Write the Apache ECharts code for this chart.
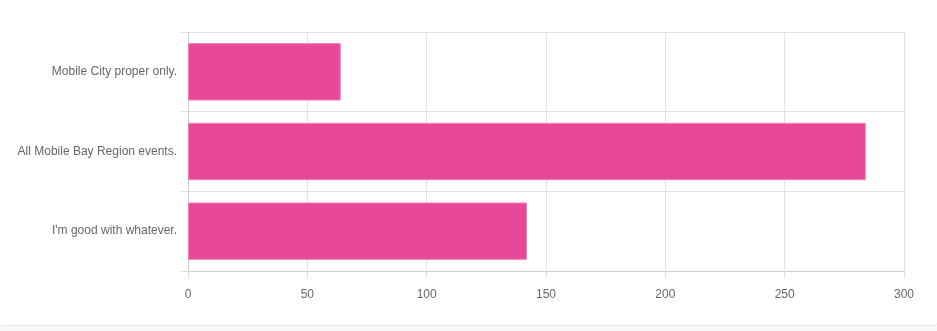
<!DOCTYPE html>
<html>
<head>
<meta charset="utf-8">
<script src="https://cdn.jsdelivr.net/npm/echarts@6/dist/echarts.min.js"></script>
<style>
html,body{margin:0;padding:0;background:#f8f9fa;}
#card{width:937px;height:325px;background:#fff;border-bottom:1px solid #e6e6e6;border-radius:0 0 4px 4px;}
#chart{width:937px;height:325px;}
</style>
</head>
<body>
<div id="card"><div id="chart"></div></div>
<script>
const categories = ["Mobile City proper only.", "All Mobile Bay Region events.", "I'm good with whatever."];
const counts = [64, 284, 142];
const xTicks = {min: 0, max: 300, interval: 50};

const chart = echarts.init(document.getElementById('chart'), null, {renderer: 'canvas'});
chart.setOption({
  animation: false,
  textStyle: {fontFamily: 'Arial, "Liberation Sans", sans-serif'},
  grid: {left: 188, right: 33, top: 32, bottom: 54, containLabel: false},
  xAxis: {
    type: 'value',
    min: xTicks.min, max: xTicks.max, interval: xTicks.interval,
    axisLine: {show: true, lineStyle: {color: '#cccccc'}},
    axisTick: {show: true, length: 7, lineStyle: {color: '#dddddd'}},
    axisLabel: {color: '#666666', fontSize: 12, margin: 18, fontFamily: 'Arial, "Liberation Sans", sans-serif'},
    splitLine: {show: true, lineStyle: {color: '#e2e2e2'}}
  },
  yAxis: {
    type: 'category',
    data: categories,
    inverse: true,
    boundaryGap: true,
    axisLine: {show: true, lineStyle: {color: '#cccccc'}},
    axisTick: {show: true, length: 7, lineStyle: {color: '#dddddd'}},
    axisLabel: {color: '#666666', fontSize: 12, margin: 11, fontFamily: 'Arial, "Liberation Sans", sans-serif'},
    splitLine: {show: true, lineStyle: {color: '#e2e2e2'}}
  },
  series: [{
    type: 'bar',
    data: counts,
    barCategoryGap: '28%',
    itemStyle: {color: '#e8489a', borderColor: '#f27cb8', borderWidth: 1}
  }]
});
</script>
</body>
</html>
